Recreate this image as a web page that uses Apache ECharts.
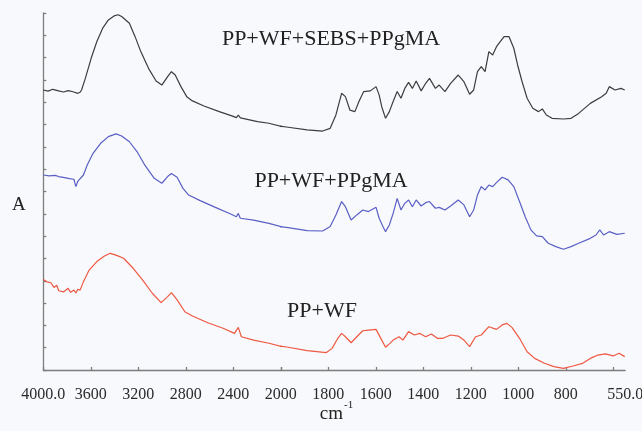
<!DOCTYPE html>
<html>
<head>
<meta charset="utf-8">
<script src="https://cdn.jsdelivr.net/npm/echarts@6/dist/echarts.min.js"></script>
<style>
  html, body { margin: 0; padding: 0; background: #f8f9fc; }
  #chart { width: 642px; height: 431px; }
</style>
</head>
<body>
<div id="chart"></div>
<script>
// ---- Data (wavenumber in cm-1, absorbance in arbitrary offset units) ----
const xLabelsHigh = [4000, 3600, 3200, 2800, 2400, 2000];
const xLabelsLow = [1800, 1600, 1400, 1200, 1000, 800, 550];
const xTicksLow = [2000, 1800, 1600, 1400, 1200, 1000, 800, 600];

const seriesNames = ['PP+WF+SEBS+PPgMA', 'PP+WF+PPgMA', 'PP+WF'];

const blackWn = [4000,3960,3920,3871,3830,3790,3750,3710,3690,3678,3646,3597,3549,3501,3452,3404,3370,3340,3275,3227,3179,3114,3050,3002,2953,2921,2889,2841,2792,2744,2647,2518,2406,2374,2358,2340,2325,2196,2100,1969,1889,1824,1792,1768,1744,1728,1709,1688,1671,1651,1623,1599,1586,1575,1559,1543,1527,1510,1494,1478,1462,1446,1430,1409,1390,1374,1349,1333,1309,1285,1253,1229,1205,1188,1172,1156,1140,1124,1108,1092,1076,1060,1039,1019,1003,984,963,939,915,899,882,858,810,778,746,697,649,630,617,593,568,552];
const blackA = [12.55,12.50,12.58,12.51,12.46,12.52,12.47,12.40,12.45,12.55,13.07,13.97,14.72,15.31,15.69,15.87,15.92,15.84,15.54,14.94,14.27,13.52,12.95,12.77,13.15,13.37,13.22,12.70,12.25,12.06,11.83,11.58,11.38,11.31,11.42,11.30,11.25,11.13,11.06,10.88,10.76,10.71,10.83,11.43,12.40,12.25,11.65,11.58,12.03,12.48,12.51,12.70,12.33,11.80,11.28,11.58,12.03,12.48,12.18,12.62,12.89,12.62,12.95,12.51,12.85,13.07,12.62,12.77,12.48,12.85,13.22,12.92,12.36,12.55,13.37,13.60,13.37,14.27,14.12,14.49,14.72,14.94,14.94,14.42,13.67,12.92,12.18,11.73,11.58,11.70,11.43,11.28,11.25,11.28,11.50,11.95,12.25,12.40,12.70,12.55,12.62,12.55];

const blueWn = [4000,3950,3900,3871,3820,3780,3742,3726,3710,3694,3662,3630,3581,3517,3452,3388,3340,3275,3211,3146,3066,3002,2953,2921,2873,2824,2776,2679,2551,2422,2374,2358,2341,2229,2100,1969,1889,1824,1792,1768,1744,1728,1704,1680,1655,1631,1599,1586,1570,1559,1543,1527,1510,1494,1478,1462,1446,1430,1409,1390,1374,1349,1333,1309,1285,1253,1229,1205,1188,1172,1156,1140,1124,1108,1092,1068,1043,1019,995,971,947,923,899,874,842,810,778,746,697,673,657,641,617,585,552];
const blueA = [8.74,8.70,8.72,8.67,8.62,8.58,8.55,8.22,8.45,8.49,8.74,9.19,9.71,10.16,10.46,10.58,10.49,10.23,9.79,9.19,8.59,8.37,8.67,8.81,8.64,8.14,7.84,7.59,7.29,6.99,6.87,7.02,6.80,6.72,6.57,6.38,6.25,6.23,6.43,6.95,7.55,7.32,6.72,6.95,7.17,7.10,7.29,6.80,6.43,6.20,6.50,7.02,7.69,7.17,7.47,7.62,7.32,7.62,7.35,7.50,7.55,7.25,7.29,7.17,7.35,7.62,7.40,6.87,7.17,7.84,8.22,8.07,8.29,8.22,8.40,8.64,8.52,8.22,7.55,6.87,6.28,6.01,5.98,5.68,5.53,5.41,5.53,5.68,5.90,6.05,6.28,6.05,6.20,6.08,6.13];

const redWn = [4000,3970,3936,3910,3887,3870,3855,3830,3791,3770,3742,3725,3710,3690,3662,3614,3549,3485,3436,3388,3324,3243,3163,3082,3008,2953,2921,2873,2808,2744,2615,2486,2390,2358,2332,2229,2100,1969,1889,1808,1784,1760,1744,1728,1704,1680,1655,1631,1599,1575,1559,1543,1527,1502,1486,1462,1438,1414,1390,1366,1341,1317,1285,1253,1229,1205,1180,1156,1124,1092,1068,1048,1027,995,963,931,890,850,810,770,729,697,665,633,601,576,552];
const redA = [4.06,3.95,3.91,3.70,3.80,3.55,3.62,3.50,3.66,3.48,3.58,3.45,3.62,3.58,3.96,4.48,4.86,5.11,5.23,5.15,5.01,4.56,4.03,3.44,3.02,3.29,3.47,3.14,2.61,2.42,2.12,1.87,1.64,1.91,1.49,1.34,1.20,1.02,0.87,0.78,0.97,1.42,1.64,1.49,1.22,1.49,1.76,1.79,1.82,1.34,1.02,1.17,1.34,1.49,1.34,1.72,1.57,1.64,1.49,1.61,1.42,1.42,1.57,1.52,1.34,1.05,1.49,1.57,1.94,1.82,2.02,2.09,1.91,1.42,0.82,0.52,0.30,0.15,0.07,0.18,0.30,0.52,0.67,0.72,0.63,0.75,0.60];

// ---- Build series (instrument axis changes scale at 2000 cm-1: two panels) ----
const SPLIT = 2000;
function highPart(wn, a) {
  const out = [];
  for (let i = 0; i < wn.length; i++) {
    out.push([wn[i], a[i]]);
    if (wn[i] < SPLIT) break;
  }
  return out;
}
function lowPart(wn, a) {
  let start = 0;
  for (let i = 0; i < wn.length; i++) { if (wn[i] > SPLIT) start = i; }
  const out = [];
  for (let i = start; i < wn.length; i++) out.push([wn[i], a[i]]);
  return out;
}

const curves = [
  { wn: blackWn, a: blackA, color: '#3d3d3d' },
  { wn: blueWn, a: blueA, color: '#5a5fc4' },
  { wn: redWn, a: redA, color: '#ee5842' }
];

const series = [];
curves.forEach((c, k) => {
  series.push({
    name: seriesNames[k], type: 'line', xAxisIndex: 0, yAxisIndex: 0,
    data: highPart(c.wn, c.a), showSymbol: false, clip: true, animation: false,
    lineStyle: { color: c.color, width: 1.2 }
  });
  series.push({
    name: seriesNames[k], type: 'line', xAxisIndex: 1, yAxisIndex: 1,
    data: lowPart(c.wn, c.a), showSymbol: false, clip: true, animation: false,
    lineStyle: { color: c.color, width: 1.2 }
  });
});

const FONT = '"Liberation Serif", "Times New Roman", serif';
const axisLineStyle = { color: '#7d7d7d', width: 1.3 };
const labelStyle = { color: '#2a2a2a', fontFamily: FONT, fontSize: 16, margin: 17 };

const chart = echarts.init(document.getElementById('chart'), null, { renderer: 'canvas' });
chart.setOption({
  backgroundColor: '#f8f9fc',
  animation: false,
  grid: [
    { left: 43.3, top: 13, width: 237.5, height: 357, outerBoundsMode: 'none', containLabel: false },
    { left: 280.8, top: 13, width: 344.4, height: 357, outerBoundsMode: 'none', containLabel: false }
  ],
  xAxis: [
    {
      type: 'value', gridIndex: 0, min: 2000, max: 4000, interval: 400, inverse: true,
      axisLine: { show: true, onZero: false, lineStyle: axisLineStyle },
      axisTick: { show: true, inside: true, length: 3, lineStyle: axisLineStyle },
      splitLine: { show: false },
      axisLabel: Object.assign({}, labelStyle, {
        customValues: xLabelsHigh,
        formatter: v => (v === 4000 ? '4000.0' : String(v))
      })
    },
    {
      type: 'value', gridIndex: 1, min: 550, max: 2000, interval: 50, inverse: true,
      axisLine: { show: true, onZero: false, lineStyle: axisLineStyle },
      axisTick: { show: true, inside: true, length: 3, lineStyle: axisLineStyle, customValues: xTicksLow },
      splitLine: { show: false },
      axisLabel: Object.assign({}, labelStyle, {
        customValues: xLabelsLow,
        formatter: v => (v === 550 ? '550.0' : String(v))
      })
    }
  ],
  yAxis: [
    {
      type: 'value', gridIndex: 0, min: 0, max: 16, interval: 1,
      axisLine: { show: true, lineStyle: axisLineStyle },
      axisTick: { show: true, inside: true, length: 3, lineStyle: axisLineStyle },
      axisLabel: { show: false },
      splitLine: { show: false }
    },
    {
      type: 'value', gridIndex: 1, min: 0, max: 16, interval: 1, show: false,
      splitLine: { show: false }
    }
  ],
  series: series,
  graphic: [
    { type: 'text', x: 12, y: 196, silent: true,
      style: { text: 'A', font: '19px ' + FONT, fill: '#222' } },
    { type: 'text', x: 343, y: 414, silent: true,
      style: { text: 'cm', font: '19px ' + FONT, fill: '#222', textAlign: 'right', textVerticalAlign: 'middle' } },
    { type: 'text', x: 344, y: 405, silent: true,
      style: { text: '-1', font: '11px ' + FONT, fill: '#222', textAlign: 'left', textVerticalAlign: 'middle' } },
    { type: 'text', x: 331, y: 39, silent: true,
      style: { text: seriesNames[0], font: '22px ' + FONT, fill: '#222', textAlign: 'center', textVerticalAlign: 'middle' } },
    { type: 'text', x: 331, y: 181, silent: true,
      style: { text: seriesNames[1], font: '22px ' + FONT, fill: '#222', textAlign: 'center', textVerticalAlign: 'middle' } },
    { type: 'text', x: 322, y: 311, silent: true,
      style: { text: seriesNames[2], font: '22px ' + FONT, fill: '#222', textAlign: 'center', textVerticalAlign: 'middle' } }
  ]
});
</script>
</body>
</html>
